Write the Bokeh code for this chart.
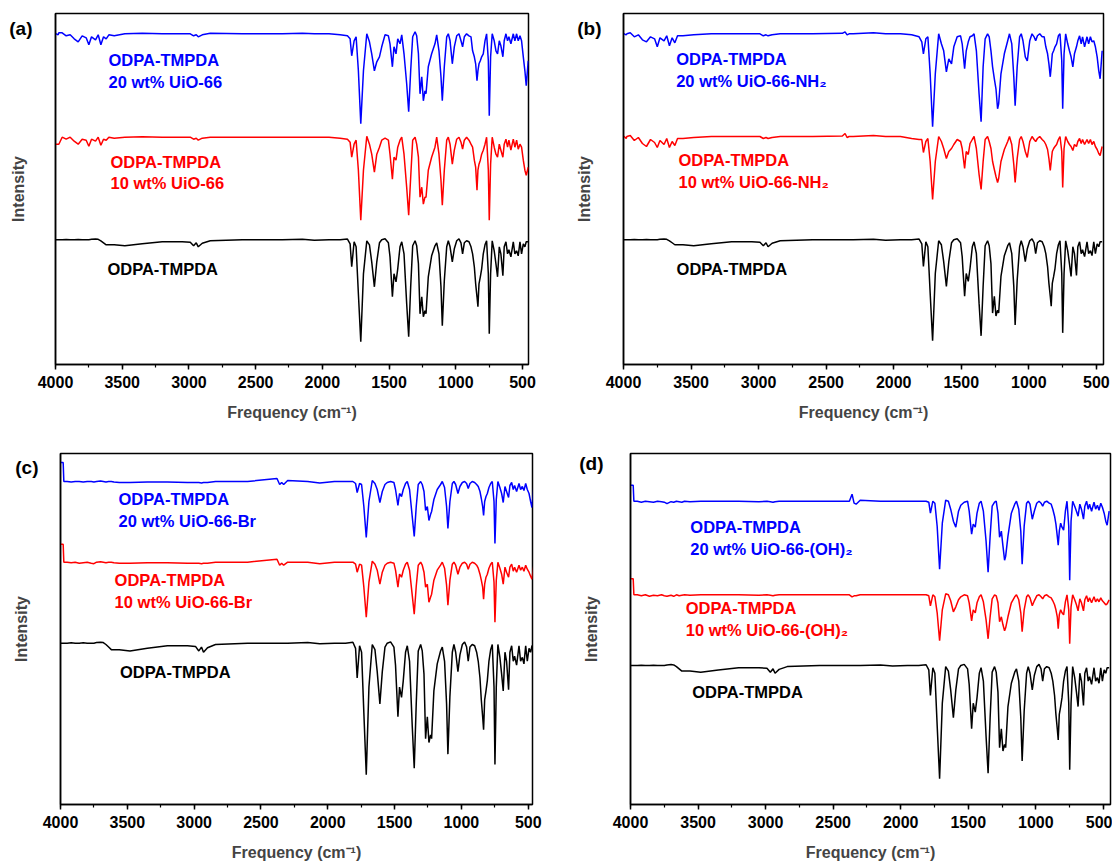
from bokeh.plotting import figure
from bokeh.layouts import row, column
from bokeh.models import Range1d, SingleIntervalTicker, FixedTicker
from bokeh.core.properties import value
from bokeh.embed import file_html
from bokeh.resources import INLINE

# ---------------- data (wavenumber grid, cm-1) ----------------
WAVENUMBER = [
    4000, 3995, 3980, 3975, 3950, 3920, 3890, 3860, 3830, 3800,
    3770, 3750, 3730, 3700, 3680, 3660, 3640, 3620, 3600, 3560,
    3480, 3350, 3200, 3050, 2990, 2965, 2945, 2930, 2900, 2840,
    2600, 2380, 2360, 2345, 2330, 2300, 2150, 2060, 1950, 1867,
    1812, 1792, 1780, 1762, 1747, 1730, 1712, 1692, 1667, 1647,
    1630, 1610, 1592, 1572, 1555, 1530, 1505, 1493, 1475, 1463,
    1448, 1435, 1418, 1405, 1388, 1368, 1353, 1338, 1323, 1305,
    1293, 1280, 1268, 1255, 1243, 1231, 1223, 1206, 1181, 1156,
    1143, 1126, 1111, 1101, 1086, 1068, 1056, 1043, 1026, 1011,
    993, 976, 961, 949, 936, 919, 901, 886, 874, 861,
    851, 841, 834, 826, 816, 806, 794, 781, 769, 756,
    749, 739, 727, 712, 699, 687, 674, 662, 647, 637,
    624, 612, 602, 587, 569, 557, 544, 532, 519, 507,
    494, 482, 472, 457,
]

# intensity relative to each trace's baseline (a.u.)
ODPA_TMPDA = [
    0, 0, 0, 0, 0, 0.3, 0, 0, 0.3, 0,
    0, 0, 0.5, 0.8, 0.5, -1, -3, -5, -5, -5,
    -6, -4, -2, -2, -2.5, -6, -3, -7, -3.5, -1,
    0, 0, 0, 0, 0, 0, 0.5, -0.5, 0, 0,
    0.7, -4, -27, -2, -7, -54, -102, -34, -1, -5,
    -22, -47, -22, -3, 0, 1, -3, -17, -57, -34,
    -42, -29, -7, -2, -14, -64, -97, -47, -6, -1,
    -6, -24, -74, -57, -77, -71, -74, -37, -16, -6,
    -3, -14, -47, -86, -41, -7, -1, -7, -22, -9,
    -1, 1, -3, -14, -3, -1, -2, -7, -14, -27,
    -44, -57, -67, -44, -37, -29, -14, -5, -1, -34,
    -94, -34, -1, -11, -24, -37, -7, -14, -36, -7,
    -2, -14, -10, -17, -2, -14, -11, -16, -2, -14,
    -4, -7, -2, -2,
]

UIO66_20 = [
    0, 0, -1, 1, 1, -2, -1, -5, -8, -2,
    -4, -11, -3, -6, -1, -11, -3, -5, -1, -2,
    0, 0.5, 0, 0, 0, -2, -1, -3, -1, 0.5,
    0, 0, 0, 0, 0, 0, 0.5, 0, 0, -1,
    -2, -5, -22, -7, -3, -37, -90, -37, 0, -8,
    -20, -37, -28, -23, -13, -1, -2, -10, -33, -13,
    -20, -5, -10, -1, -20, -50, -78, -37, -3, 2,
    -2, -20, -60, -43, -67, -57, -60, -33, -20, -10,
    -1, -17, -43, -67, -33, -3, 0, -7, -30, -13,
    -2, 0, -7, -13, -3, 0, -2, -3, -17, -23,
    -30, -47, -37, -30, -27, -23, -20, -7, 0, -27,
    -82, -23, 0, -7, -17, -20, -7, -12, -23, -7,
    0, -7, -3, -10, 0, -7, 0, -7, -2, -7,
    -23, -37, -52, -27,
]

UIO66_10 = [
    -7, -7, -7, -7, 0, -2, 0, -4, -7, -2,
    -3, -9, -2, -4, 0, -8, -2, -3, 0, -1,
    0, 0.5, 0, 0, 0, -2, -1, -3, -1, 0,
    0, 0, 0, 0, 0, 0, 0, 0, 0, -1,
    -2, -5, -20, -7, -3, -33, -83, -33, 1, -7,
    -17, -35, -17, -10, -3, -1, -3, -17, -42, -20,
    -23, -10, -3, 0, -17, -50, -78, -40, -3, 0,
    -7, -20, -60, -50, -67, -60, -60, -33, -20, -10,
    0, -17, -43, -68, -33, -3, 0, -7, -27, -13,
    -2, 0, -5, -12, -3, 0, -3, -7, -10, -23,
    -30, -53, -33, -27, -23, -17, -13, -7, 0, -33,
    -83, -27, 0, -10, -17, -20, -7, -13, -20, -7,
    -2, -10, -3, -13, -2, -10, -3, -12, -7, -10,
    -23, -33, -38, -30,
]

NH2_20 = [
    0, 0, -1, 0, 1, -3, -1, -6, -8, -3,
    -5, -13, -4, -7, -2, -12, -4, -9, -2, -2,
    -1, 0, 0, 0, 0, -2, -1, -2, -1, 0,
    0, 0.5, 2, -1, 0, 0, 1, 0, 0, -1,
    -3, -8, -20, -5, -3, -40, -93, -40, 0, -10,
    -17, -38, -25, -30, -13, -3, -2, -10, -35, -17,
    -8, -3, -2, 0, -17, -60, -88, -33, -5, 0,
    -3, -17, -33, -45, -55, -75, -70, -40, -20, -7,
    0, -10, -43, -72, -33, -3, 0, -7, -23, -27,
    -7, 0, -3, -7, -2, 0, -3, -3, -13, -20,
    -30, -43, -33, -20, -17, -13, -10, -2, 0, -27,
    -75, -20, 0, -10, -17, -23, -33, -20, -13, -7,
    -2, -10, -3, -13, -3, -10, -3, -8, -7, -13,
    -23, -37, -45, -17,
]

NH2_10 = [
    0, 0, -2, 0, 1, -4, -1, -7, -10, -3,
    -6, -11, -4, -8, -2, -11, -5, -9, -2, -2,
    -1, 0, 0, 0, 0, -2, -1, -2, -1, 0,
    0, 0.5, 3, -1, 0, 0, 1, 0, 0, -2,
    -3, -3, -16, -5, -2, -25, -63, -25, 0, -5,
    -12, -22, -15, -12, -8, -3, -5, -12, -32, -15,
    -18, -7, -3, 0, -12, -38, -53, -25, -3, 0,
    -5, -12, -25, -33, -40, -46, -42, -25, -13, -5,
    0, -8, -28, -46, -22, -3, 0, -5, -15, -21,
    -5, 0, -3, -5, -2, 0, -3, -5, -8, -13,
    -22, -34, -25, -15, -12, -10, -8, -3, 0, -15,
    -51, -12, 0, -5, -8, -10, -14, -8, -10, -5,
    -2, -7, -3, -8, -3, -7, -3, -8, -5, -10,
    -13, -17, -19, -10,
]

BR_20 = [
    19, 19, 19, 0, 0, -0.5, 0, 0, -0.5, 0,
    0, -0.5, 0, 0.5, 0, -0.5, 0, 0, -0.5, -1,
    -1, -0.5, -0.5, -1, -1, -1, -1.5, -1, -1, 0,
    0, 3, -3, -1, -3, 1, 0, -1.5, 0, 0,
    0, -2, -11, -2, -3, -25, -56, -20, 1, -2,
    -8, -21, -10, -3, -1, 0, -1, -8, -24, -12,
    -15, -8, -2, 0, -8, -35, -55, -25, -3, 0,
    -3, -10, -29, -25, -39, -33, -30, -18, -8, -3,
    0, -6, -25, -47, -20, -2, 0, -3, -12, -5,
    -1, 0, -2, -7, -2, 0, -1, -3, -5, -10,
    -17, -25, -34, -20, -15, -12, -6, -2, 0, -20,
    -62, -18, 0, -6, -12, -21, -5, -10, -16, -4,
    -1, -8, -4, -10, -2, -8, -5, -9, -2, -8,
    -12, -20, -26, -3,
]

BR_10 = [
    18, 18, 18, 0, 0, -0.5, 0, -1, -0.5, 0,
    -1, -1.5, 0, 0.5, 0, -0.5, 0, 0, -0.5, -1,
    -1, -0.5, -0.5, -1, -1, -1, -1.5, -1, -1, 0,
    0, 3, -3, -1, -3, 0, 0, -1.5, 0, 0,
    0, -2, -10, -2, -3, -25, -55, -20, 1, -2,
    -8, -22, -10, -3, -1, 0, -1, -8, -25, -12,
    -15, -8, -2, 0, -8, -33, -52, -24, -3, 0,
    -3, -10, -25, -22, -40, -35, -32, -18, -8, -3,
    0, -6, -23, -43, -18, -2, 0, -3, -12, -5,
    -1, 0, -2, -7, -2, 0, -1, -3, -6, -12,
    -18, -25, -37, -22, -15, -12, -6, -2, 0, -20,
    -60, -18, 0, -6, -12, -22, -5, -10, -15, -5,
    -2, -9, -5, -10, -3, -8, -5, -9, -3, -7,
    -10, -14, -17, -2,
]

OH2_20 = [
    16, 16, 16, 0, 0, -1, 0, -0.5, -1, 0,
    -0.5, -1, -2.5, -0.5, -1, 0, -0.5, -1, 0, -0.5,
    0, 0, 0, -0.5, 0, -0.5, -1, -0.5, 0, 0,
    0, 0, 7, -2, -3, 1, 0, 0, 0, 0,
    0, -1, -12, 0, -2, -25, -68, -22, 1, 0,
    -8, -20, -26, -10, -4, -1, 0, -10, -33, -23,
    -26, -12, -2, 0, -10, -40, -71, -35, -5, -1,
    0, -12, -36, -30, -45, -59, -55, -35, -12, -3,
    0, -8, -30, -63, -25, -2, 0, -3, -18, -10,
    -2, 0, -2, -5, -1, 0, -2, -3, -8, -15,
    -23, -35, -44, -30, -22, -26, -29, -10, 0, -25,
    -79, -20, 0, -5, -10, -15, -3, -8, -18, -5,
    0, -8, -3, -10, -1, -8, -4, -9, -2, -6,
    -12, -20, -24, -10,
]

OH2_10 = [
    16, 16, 16, 0, 0, -1, 0, -1.5, -0.5, -1,
    0, -1, -1.5, -0.5, -1.5, 0, -1, -0.5, 0, -0.5,
    0, 0, 0, -0.5, 0, -0.5, -1, -0.5, 0, 0,
    0, 0, -2, -1, -1, 0, 0, 0, 0, 0,
    0, -1, -11, 0, -2, -18, -46, -15, 1, 0,
    -6, -17, -12, -5, -2, 0, -1, -8, -26, -15,
    -18, -8, -2, 0, -7, -25, -44, -22, -4, 0,
    -1, -8, -27, -22, -30, -36, -33, -22, -8, -2,
    0, -5, -18, -37, -15, -2, 0, -3, -11, -6,
    -1, 0, -2, -4, -1, 0, -2, -3, -6, -10,
    -15, -22, -34, -20, -15, -18, -20, -7, 0, -15,
    -49, -12, 0, -5, -10, -16, -4, -8, -16, -5,
    -1, -7, -3, -8, -2, -7, -4, -7, -3, -6,
    -8, -10, -9, -5,
]

NEAT_NAME = "ODPA-TMPDA"
PANEL_LETTERS = ["(a)", "(b)", "(c)", "(d)"]
FILLER_20 = ["20 wt% UiO-66", "20 wt% UiO-66-NH\u2082", "20 wt% UiO-66-Br", "20 wt% UiO-66-(OH)\u2082"]
FILLER_10 = ["10 wt% UiO-66", "10 wt% UiO-66-NH\u2082", "10 wt% UiO-66-Br", "10 wt% UiO-66-(OH)\u2082"]
SERIES_20 = [UIO66_20, NH2_20, BR_20, OH2_20]
SERIES_10 = [UIO66_10, NH2_10, BR_10, OH2_10]
X_LABEL = "Frequency (cm\u207b\u00b9)"
Y_LABEL = "Intensity"

for name, arr in [("neat", ODPA_TMPDA), ("u20", UIO66_20), ("u10", UIO66_10), ("n20", NH2_20),
                  ("n10", NH2_10), ("b20", BR_20), ("b10", BR_10), ("o20", OH2_20), ("o10", OH2_10)]:
    assert len(arr) == len(WAVENUMBER), (name, len(arr), len(WAVENUMBER))

# ---------------- layout / style ----------------
FONT = "Liberation Sans"
BLUE, RED, BLACK = "#0000FF", "#FF0000", "#000000"

# letter = (y position, gap from frame to right edge of letter); ylab = axis label standoff
LAYOUT = [
    dict(width=560, left=55, right=32, top=13, bottom=70, x_end=455,
         base=(330.7, 227.3, 124.7), neat_scale=1.0,
         t20=(3603, 305, 283), t10=(3588, 203, 182), tneat=(3611, 96),
         letter=(336, 23), ylab=-21),
    dict(width=552, left=63, right=9, top=13, bottom=70, x_end=447,
         base=(330.7, 228.0, 124.7), neat_scale=0.99,
         t20=(3610, 305.7, 284), t10=(3593, 204.7, 183), tneat=(3607, 96),
         letter=(336, 22), ylab=-19),
    dict(width=560, left=60, right=28, top=19, bottom=64, x_end=468,
         base=(323.0, 242.3, 161.3), neat_scale=1.29,
         t20=(3566, 305.7, 283.3), t10=(3595, 224.7, 203), tneat=(3555, 133),
         letter=(337, 22), ylab=-18),
    dict(width=552, left=70, right=2, top=19, bottom=64, x_end=447,
         base=(303.3, 209.7, 139.0), neat_scale=1.11,
         t20=(3557, 277.3, 255.7), t10=(3591, 196.7, 175), tneat=(3543, 112.3),
         letter=(341, 27), ylab=-24),
]


def make_panel(i):
    L = LAYOUT[i]
    p = figure(width=L["width"], height=434, x_range=Range1d(4000, L["x_end"]),
               y_range=Range1d(0, 351), output_backend="svg", toolbar_location=None, tools="",
               min_border_left=L["left"], min_border_right=L["right"],
               min_border_top=L["top"], min_border_bottom=L["bottom"])
    p.grid.visible = False
    p.outline_line_color = "black"
    p.outline_line_width = 1.5
    p.background_fill_color = "white"
    p.border_fill_color = "white"

    xa = p.xaxis[0]
    xa.ticker = SingleIntervalTicker(interval=500, num_minor_ticks=2)
    xa.axis_line_width = 1.5
    xa.major_tick_line_width = 1.5
    xa.minor_tick_line_width = 1.2
    xa.major_tick_in = 0
    xa.major_tick_out = 5
    xa.minor_tick_in = 0
    xa.minor_tick_out = 3
    xa.major_label_text_font = FONT
    xa.major_label_text_font_style = "bold"
    xa.major_label_text_font_size = "16px"
    xa.major_label_text_color = "black"
    xa.major_label_standoff = 6
    xa.axis_label = X_LABEL
    xa.axis_label_text_font = FONT
    xa.axis_label_text_font_style = "bold"
    xa.axis_label_text_font_size = "16px"
    xa.axis_label_standoff = 13

    # y axis: no ticks; its single tick label carries the panel letter
    ly, lgap = L["letter"]
    ya = p.yaxis[0]
    ya.ticker = FixedTicker(ticks=[ly])
    ya.major_label_overrides = {ly: PANEL_LETTERS[i]}
    ya.major_label_orientation = "horizontal"
    ya.major_label_text_font = FONT
    ya.major_label_text_font_style = "bold"
    ya.major_label_text_font_size = "19px"
    ya.major_label_text_color = "black"
    ya.major_label_standoff = lgap
    ya.major_tick_out = 0
    ya.major_tick_in = 0
    ya.minor_tick_out = 0
    ya.minor_tick_in = 0
    ya.major_tick_line_color = None
    ya.minor_tick_line_color = None
    ya.axis_line_width = 1.5
    ya.axis_label = Y_LABEL
    ya.axis_label_text_font = FONT
    ya.axis_label_text_font_style = "bold"
    ya.axis_label_text_font_size = "16px"
    ya.axis_label_standoff = L["ylab"]

    b20, b10, bneat = L["base"]
    s = L["neat_scale"]
    p.line(WAVENUMBER, [b20 + v for v in SERIES_20[i]], color=BLUE, line_width=1.5)
    p.line(WAVENUMBER, [b10 + v for v in SERIES_10[i]], color=RED, line_width=1.5)
    p.line(WAVENUMBER, [bneat + s * v for v in ODPA_TMPDA], color=BLACK, line_width=1.5)

    common = dict(text_font=value(FONT), text_font_style="bold", text_font_size="16.5px",
                  text_baseline="middle", text_align="left")
    x, y1, y2 = L["t20"]
    p.text(x=[x, x], y=[y1, y2], text=[NEAT_NAME, FILLER_20[i]], text_color=BLUE, **common)
    x, y1, y2 = L["t10"]
    p.text(x=[x, x], y=[y1, y2], text=[NEAT_NAME, FILLER_10[i]], text_color=RED, **common)
    x, y1 = L["tneat"]
    p.text(x=[x], y=[y1], text=[NEAT_NAME], text_color=BLACK, **common)
    return p


panels = [make_panel(i) for i in range(4)]
layout = column(row(panels[0], panels[1], spacing=0), row(panels[2], panels[3], spacing=0), spacing=0)

open("out.html", "w").write(file_html(layout, INLINE))
